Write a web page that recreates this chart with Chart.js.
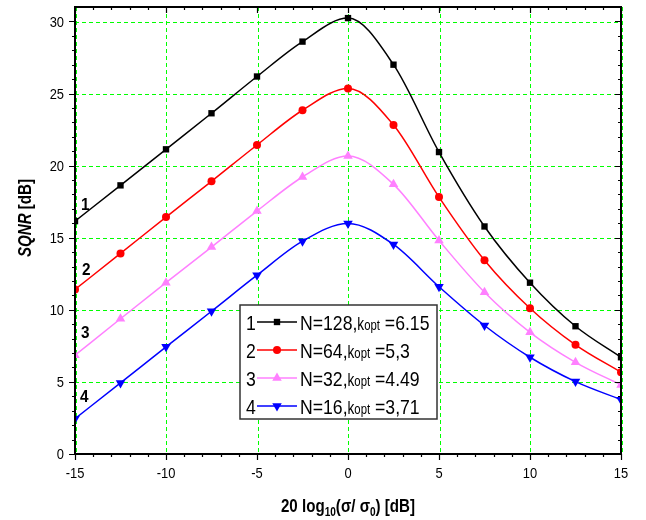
<!DOCTYPE html>
<html>
<head>
<meta charset="utf-8">
<script src="https://cdn.jsdelivr.net/npm/chart.js@4.4.0/dist/chart.umd.min.js"></script>
<style>
  html, body { margin: 0; padding: 0; background: #fff; }
  #wrap { width: 646px; height: 520px; }
</style>
</head>
<body>
<div id="wrap"><canvas id="chart" width="646" height="520"></canvas></div>
<script>
// data
var xValues = [-15, -12.5, -10, -7.5, -5, -2.5, 0, 2.5, 5, 7.5, 10, 12.5, 15];
var sqnrN128 = [16.15, 18.63, 21.13, 23.63, 26.18, 28.6, 30.23, 27.0, 20.94, 15.78, 11.88, 8.86, 6.71];
var sqnrN64 = [11.41, 13.91, 16.43, 18.91, 21.43, 23.84, 25.35, 22.82, 17.82, 13.44, 10.11, 7.57, 5.67];
var sqnrN32 = [6.85, 9.38, 11.88, 14.35, 16.85, 19.21, 20.67, 18.7, 14.81, 11.22, 8.44, 6.36, 4.79];
var sqnrN16 = [2.45, 4.93, 7.43, 9.9, 12.4, 14.76, 15.99, 14.53, 11.6, 8.91, 6.71, 5.02, 3.77];
var seriesNames = ['N=128', 'N=64', 'N=32', 'N=16'];
var koptValues = ['6.15', '5,3', '4.49', '3,71'];
var curveNumbers = ['1', '2', '3', '4'];
var xTicks = [-15, -10, -5, 0, 5, 10, 15];
var yTicks = [0, 5, 10, 15, 20, 25, 30];

var FONT = "'Liberation Sans Narrow', 'Liberation Sans', Arial, sans-serif";

function toPoints(ys) {
  return xValues.map(function (x, i) { return { x: x, y: ys[i] }; });
}

var styles = [
  { color: '#000000', pointStyle: 'rect', radius: 4.5, rotation: 0 },
  { color: '#ff0000', pointStyle: 'circle', radius: 4, rotation: 0 },
  { color: '#ff80ff', pointStyle: 'triangle', radius: 5.5, rotation: 0 },
  { color: '#0000ff', pointStyle: 'triangle', radius: 5.5, rotation: 180 }
];
var allSeries = [sqnrN128, sqnrN64, sqnrN32, sqnrN16];

var datasets = allSeries.map(function (ys, i) {
  var s = styles[i];
  return {
    label: seriesNames[i],
    data: toPoints(ys),
    borderColor: s.color,
    backgroundColor: s.color,
    borderWidth: 1.5,
    pointStyle: s.pointStyle,
    pointRadius: s.radius,
    pointRotation: s.rotation,
    pointBorderWidth: 0,
    cubicInterpolationMode: 'monotone',
    fill: false
  };
});

// condensed text (no narrow font installed)
function narrowText(ctx, txt, x, y, sx) {
  ctx.save();
  ctx.translate(x, y);
  ctx.scale(sx, 1);
  ctx.fillText(txt, 0, 0);
  ctx.restore();
  return ctx.measureText(txt).width * sx;
}

// green dashed grid, under the curves
var gridPlugin = {
  id: 'greenGrid',
  beforeDatasetsDraw: function (chart) {
    var ctx = chart.ctx;
    var a = chart.chartArea;
    ctx.save();
    ctx.fillStyle = '#00ff00';
    xTicks.forEach(function (t) {
      var px = 2 * Math.round(chart.scales.x.getPixelForValue(t) / 2);
      for (var y = a.top; y < a.bottom; y += 7) ctx.fillRect(px, y, 1, Math.min(4, a.bottom - y));
    });
    yTicks.forEach(function (t) {
      var py = 2 * Math.round(chart.scales.y.getPixelForValue(t) / 2);
      for (var x = a.left; x < a.right; x += 7) ctx.fillRect(x, py, Math.min(4, a.right - x), 1);
    });
    ctx.restore();
  }
};

// ticks, box, labels, legend and axis titles
var decorPlugin = {
  id: 'decor',
  afterDraw: function (chart) {
    var ctx = chart.ctx;
    var a = chart.chartArea;
    var xs = chart.scales.x, ys = chart.scales.y;
    ctx.save();

    // minor / major ticks
    ctx.strokeStyle = '#000';
    ctx.lineWidth = 1.2;
    ctx.beginPath();
    for (var v = -15; v <= 15; v++) {
      var px = Math.round(xs.getPixelForValue(v)) + 0.5;
      var len = (v % 5 === 0) ? 6 : 3;
      ctx.moveTo(px, a.bottom); ctx.lineTo(px, a.bottom + len);
      ctx.moveTo(px, a.top); ctx.lineTo(px, a.top + len);
    }
    for (var w = 0; w <= 30; w++) {
      var py = Math.round(ys.getPixelForValue(w)) + 0.5;
      var l2 = (w % 5 === 0) ? 6 : 3;
      ctx.moveTo(a.left, py); ctx.lineTo(a.left - l2, py);
      ctx.moveTo(a.right, py); ctx.lineTo(a.right - l2, py);
    }
    ctx.stroke();

    // frame
    ctx.lineWidth = 2;
    ctx.strokeRect(a.left, a.top, a.right - a.left, a.bottom - a.top);

    // tick labels (condensed)
    ctx.fillStyle = '#000';
    ctx.font = '15px ' + FONT;
    ctx.textBaseline = 'middle';
    ctx.textAlign = 'left';
    var TK = 0.86;
    xTicks.forEach(function (t) {
      var lab = String(t);
      var tw = ctx.measureText(lab).width * TK;
      narrowText(ctx, lab, xs.getPixelForValue(t) - tw / 2, a.bottom + 20, TK);
    });
    yTicks.forEach(function (t) {
      var lab = String(t);
      var tw = ctx.measureText(lab).width * TK;
      narrowText(ctx, lab, a.left - 11 - tw, ys.getPixelForValue(t) + 1, TK);
    });

    // curve numbers
    ctx.font = 'bold 17px ' + FONT;
    var numPos = [[81, 205], [82, 270], [81, 333], [80, 397]];
    curveNumbers.forEach(function (n, i) {
      narrowText(ctx, n, numPos[i][0], numPos[i][1], 0.9);
    });

    // legend
    var lx = 240, ly = 305, lw = 197, lh = 114;
    ctx.fillStyle = '#fff';
    ctx.fillRect(lx, ly, lw, lh);
    ctx.strokeStyle = '#333';
    ctx.lineWidth = 1.5;
    ctx.strokeRect(lx, ly, lw, lh);
    var SX = 0.84;
    for (var i = 0; i < 4; i++) {
      var ry = 322 + i * 28;
      var s = styles[i];
      ctx.fillStyle = '#000';
      ctx.font = '21px ' + FONT;
      ctx.textBaseline = 'alphabetic';
      ctx.textAlign = 'left';
      narrowText(ctx, curveNumbers[i], 246, ry + 8, SX);
      ctx.strokeStyle = s.color;
      ctx.lineWidth = 1.5;
      ctx.beginPath();
      ctx.moveTo(257, ry); ctx.lineTo(297, ry);
      ctx.stroke();
      ctx.fillStyle = s.color;
      Chart.helpers.drawPoint(ctx, { pointStyle: s.pointStyle, radius: s.radius, rotation: s.rotation, borderWidth: 0 }, 277, ry);
      ctx.fillStyle = '#000';
      var tx = 300;
      ctx.font = '21px ' + FONT;
      tx += narrowText(ctx, seriesNames[i] + ',', tx, ry + 8, SX);
      ctx.font = '18px ' + FONT;
      tx += narrowText(ctx, 'k', tx, ry + 8, SX * 0.9);
      ctx.font = '15px ' + FONT;
      tx += narrowText(ctx, 'opt', tx, ry + 8, SX * 0.9);
      ctx.font = '21px ' + FONT;
      narrowText(ctx, ' =' + koptValues[i], tx, ry + 8, SX);
    }

    // x title: 20 log10(σ/ σ0) [dB]
    var parts = [
      ['20 log', 'bold 18px ', 0], ['10', 'bold 12px ', 4], ['(\u03c3/ \u03c3', 'bold 18px ', 0],
      ['0', 'bold 12px ', 4], [') [dB]', 'bold 18px ', 0]
    ];
    var TS = 0.84;
    var total = 0;
    parts.forEach(function (p) { ctx.font = p[1] + FONT; total += ctx.measureText(p[0]).width * TS; });
    var cx = (a.left + a.right) / 2 - total / 2;
    parts.forEach(function (p) {
      ctx.font = p[1] + FONT;
      cx += narrowText(ctx, p[0], cx, 512 + p[2], TS);
    });

    // y title: SQNR [dB]
    ctx.translate(31, 218);
    ctx.rotate(-Math.PI / 2);
    ctx.font = 'italic bold 18px ' + FONT;
    var w1 = ctx.measureText('SQNR').width * TS;
    ctx.font = 'bold 18px ' + FONT;
    var w2 = ctx.measureText(' [dB]').width * TS;
    var sx = -(w1 + w2) / 2;
    ctx.font = 'italic bold 18px ' + FONT;
    narrowText(ctx, 'SQNR', sx, 0, TS);
    ctx.font = 'bold 18px ' + FONT;
    narrowText(ctx, ' [dB]', sx + w1, 0, TS);

    ctx.restore();
  }
};

var chart = new Chart(document.getElementById('chart'), {
  type: 'line',
  data: { datasets: datasets },
  options: {
    responsive: false,
    animation: false,
    layout: { padding: { top: 7, right: 25, left: 0, bottom: 0 } },
    plugins: { legend: { display: false }, tooltip: { enabled: false } },
    scales: {
      x: {
        type: 'linear',
        min: -15,
        max: 15,
        afterBuildTicks: function (scale) { scale.ticks = xTicks.map(function (v) { return { value: v }; }); },
        afterFit: function (scale) { scale.height = 66; scale.paddingLeft = 0; scale.paddingRight = 0; },
        grid: { display: false },
        border: { display: false },
        ticks: { display: false }
      },
      y: {
        type: 'linear',
        min: 0,
        max: 31,
        afterBuildTicks: function (scale) { scale.ticks = yTicks.map(function (v) { return { value: v }; }); },
        afterFit: function (scale) { scale.width = 75; scale.paddingTop = 0; scale.paddingBottom = 0; },
        grid: { display: false },
        border: { display: false },
        ticks: { display: false }
      }
    }
  },
  plugins: [gridPlugin, decorPlugin]
});
</script>
</body>
</html>
